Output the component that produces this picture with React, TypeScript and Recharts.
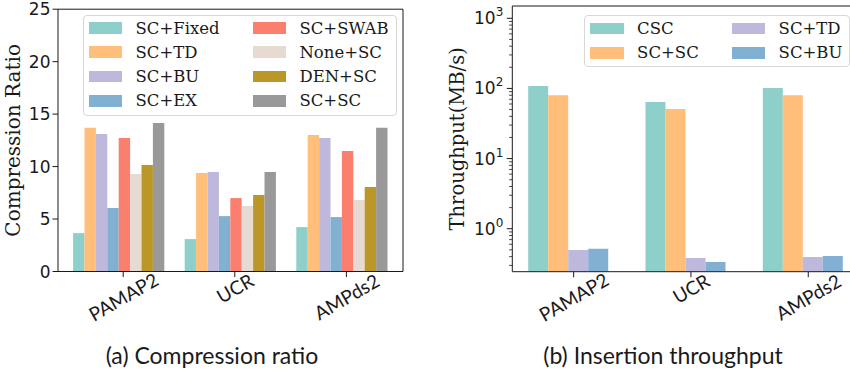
import React from "react";
import { Bar, BarChart, CartesianGrid, Legend, XAxis, YAxis } from "recharts";

// categories shared by both panels
const categories = ["PAMAP2", "UCR", "AMPds2"];

// (a) compression ratio
const ratioFixed = [3.66, 3.09, 4.23];
const ratioTD = [13.69, 9.39, 13.02];
const ratioBU = [13.11, 9.48, 12.73];
const ratioEX = [6.05, 5.28, 5.19];
const ratioSWAB = [12.73, 7.0, 11.49];
const ratioNone = [9.29, 6.24, 6.81];
const ratioDEN = [10.15, 7.29, 8.05];
const ratioSC = [14.16, 9.48, 13.69];
const ratioTicks = [0, 5, 10, 15, 20, 25];

// (b) insertion throughput, MB/s
const tputCSC = [108, 63.8, 101];
const tputSCSC = [80, 50.7, 80];
const tputTD = [0.497, 0.382, 0.395];
const tputBU = [0.519, 0.335, 0.407];
const tputMajorTicks = [1, 10, 100, 1000];
const tputMinorTicks = [
  0.3, 0.4, 0.5, 0.6, 0.7, 0.8, 0.9, 2, 3, 4, 5, 6, 7, 8, 9, 20, 30, 40, 50,
  60, 70, 80, 90, 200, 300, 400, 500, 600, 700, 800, 900,
];

const INK = "#1a1a1a";
const TICK_FONT = "DejaVu Sans";
const SERIF = "DejaVu Serif";
const CAPTION_FONT = "Lato";

const ratioSeries = [
  { key: "fixed", name: "SC+Fixed", color: "#8ECFC9", values: ratioFixed },
  { key: "td", name: "SC+TD", color: "#FFBE7A", values: ratioTD },
  { key: "bu", name: "SC+BU", color: "#BEB8DC", values: ratioBU },
  { key: "ex", name: "SC+EX", color: "#82B0D2", values: ratioEX },
  { key: "swab", name: "SC+SWAB", color: "#FA7F6F", values: ratioSWAB },
  { key: "none", name: "None+SC", color: "#E7DAD2", values: ratioNone },
  { key: "den", name: "DEN+SC", color: "#BB9727", values: ratioDEN },
  { key: "sc", name: "SC+SC", color: "#999999", values: ratioSC },
];

const tputSeries = [
  { key: "csc", name: "CSC", color: "#8ECFC9", values: tputCSC },
  { key: "scsc", name: "SC+SC", color: "#FFBE7A", values: tputSCSC },
  { key: "td", name: "SC+TD", color: "#BEB8DC", values: tputTD },
  { key: "bu", name: "SC+BU", color: "#82B0D2", values: tputBU },
];

const toRows = (series: typeof ratioSeries) =>
  categories.map((name, i) => {
    const row: Record<string, any> = { name };
    series.forEach((s) => (row[s.key] = s.values[i]));
    return row;
  });

const ratioRows = toRows(ratioSeries);
const tputRows = toRows(tputSeries);

// rotated category label, matplotlib-style (rotation=30, centred, top-aligned)
function CategoryTick(props: any) {
  const { x, y, payload, shift } = props;
  const fs = 19;
  const len = String(payload.value).length * fs * 0.6;
  const cx = x + shift;
  const cy = y + 2 + (len * 0.5 + 13.5 * 0.866) / 2;
  return (
    <g>
      <line x1={cx} x2={cx} y1={y} y2={y + 5.5} stroke={INK} />
      <text
        x={cx}
        y={cy}
        textAnchor="middle"
        dominantBaseline="central"
        transform={`rotate(-30 ${cx} ${cy})`}
        fontFamily={CAPTION_FONT}
        fontSize={fs}
        fill={INK}
      >
        {payload.value}
      </text>
    </g>
  );
}

function LinearTick(props: any) {
  const { x, y, payload } = props;
  return (
    <g>
      <line x1={x} x2={x - 5.5} y1={y} y2={y} stroke={INK} />
      <text
        x={x - 7.5}
        y={y}
        textAnchor="end"
        dominantBaseline="central"
        fontFamily={TICK_FONT}
        fontSize={17}
        fill={INK}
      >
        {payload.value}
      </text>
    </g>
  );
}

function LogTick(props: any) {
  const { x, y, payload } = props;
  const exp = Math.log10(payload.value);
  const major = tputMajorTicks.includes(payload.value);
  return (
    <g>
      <line
        x1={x}
        x2={x - (major ? 5.5 : 3.2)}
        y1={y}
        y2={y}
        stroke={INK}
        strokeWidth={major ? 1 : 0.8}
      />
      {major && (
        <text
          x={x - 9}
          y={y + 6}
          textAnchor="end"
          fontFamily={TICK_FONT}
          fontSize={17}
          fill={INK}
        >
          10
          <tspan dy={-8} fontSize={12}>
            {Math.round(exp)}
          </tspan>
        </text>
      )}
    </g>
  );
}

const yTitle = (text: string, dx: number, fs: number) => (props: any) => {
  const vb = props.viewBox;
  const cx = vb.x + dx;
  const cy = vb.y + vb.height / 2;
  return (
    <text
      x={cx}
      y={cy}
      textAnchor="middle"
      dominantBaseline="central"
      transform={`rotate(-90 ${cx} ${cy})`}
      fontFamily={SERIF}
      fontSize={fs}
      fill={INK}
    >
      {text}
    </text>
  );
};

// top and right spines of the matplotlib box
const topLine = ({ offset }: any) => [offset.top];
const rightLine = ({ offset }: any) => [offset.left + offset.width];

function LegendGrid({ payload, names, rows, padTop, padBottom }: any) {
  const items = [...(payload || [])].sort(
    (a: any, b: any) => names.indexOf(a.value) - names.indexOf(b.value)
  );
  return (
    <div
      style={{
        display: "grid",
        gridAutoFlow: "column",
        gridTemplateRows: `repeat(${rows}, 24.2px)`,
        columnGap: 33,
        padding: `${padTop}px 7px ${padBottom}px 5px`,
        border: "1px solid #d8d8d8",
        borderRadius: 4,
        background: "rgba(255,255,255,0.85)",
        fontFamily: SERIF,
        fontSize: 16.5,
        color: INK,
        whiteSpace: "nowrap",
      }}
    >
      {items.map((p: any) => (
        <div key={p.value} style={{ display: "flex", alignItems: "center" }}>
          <span
            style={{
              display: "inline-block",
              width: 33.5,
              height: 11.7,
              background: p.color,
              marginRight: 13.3,
            }}
          />
          <span>{p.value}</span>
        </div>
      ))}
    </div>
  );
}

function RatioChart() {
  return (
    <BarChart
      width={420}
      height={374}
      data={ratioRows}
      margin={{ top: 9.2, right: 17, bottom: 42.5, left: 0 }}
      barSize={11.4}
      barGap={0}
    >
      <CartesianGrid
        stroke={INK}
        strokeDasharray="0"
        horizontalCoordinatesGenerator={topLine}
        verticalCoordinatesGenerator={rightLine}
      />
      <XAxis
        dataKey="name"
        height={60}
        padding={{ left: 5.1, right: 5.1 }}
        axisLine={{ stroke: INK }}
        tickLine={false}
        tickSize={0}
        tickMargin={0}
        interval={0}
        tick={(p: any) => <CategoryTick {...p} shift={4.3} />}
      />
      <YAxis
        width={58}
        domain={[0, 25]}
        ticks={ratioTicks}
        interval={0}
        axisLine={{ stroke: INK }}
        tickLine={false}
        tickSize={0}
        tickMargin={0}
        tick={(p: any) => <LinearTick {...p} />}
        label={yTitle("Compression Ratio", 13.3, 20)}
      />
      <Legend
        layout="horizontal"
        verticalAlign="middle"
        align="center"
        wrapperStyle={{ left: 82.7, top: 15, width: "auto", height: "auto" }}
        content={(p: any) => (
          <LegendGrid
            payload={p.payload}
            names={ratioSeries.map((s) => s.name)}
            rows={4}
            padTop={0}
            padBottom={2}
          />
        )}
      />
      {ratioSeries.map((s) => (
        <Bar key={s.key} dataKey={s.key} name={s.name} fill={s.color} isAnimationActive={false} />
      ))}
    </BarChart>
  );
}

function ThroughputChart() {
  return (
    <BarChart
      width={440}
      height={374}
      data={tputRows}
      margin={{ top: 6, right: 12, bottom: 42.3, left: 0 }}
      barSize={20}
      barGap={0}
    >
      <CartesianGrid
        stroke={INK}
        strokeDasharray="0"
        horizontalCoordinatesGenerator={topLine}
        vertical={false}
      />
      <XAxis
        dataKey="name"
        height={60}
        padding={{ left: -3.1, right: -3.1 }}
        axisLine={{ stroke: INK }}
        tickLine={false}
        tickSize={0}
        tickMargin={0}
        interval={0}
        tick={(p: any) => <CategoryTick {...p} shift={5.8} />}
      />
      <YAxis
        width={82.3}
        type="number"
        scale="log"
        domain={[0.244, 1496]}
        allowDataOverflow
        ticks={[...tputMinorTicks, ...tputMajorTicks].sort((a, b) => a - b)}
        interval={0}
        axisLine={{ stroke: INK }}
        tickLine={false}
        tickSize={0}
        tickMargin={0}
        tick={(p: any) => <LogTick {...p} />}
        label={yTitle("Throughput(MB/s)", 28, 19.5)}
      />
      <Legend
        layout="horizontal"
        verticalAlign="middle"
        align="center"
        wrapperStyle={{ left: 154.3, top: 15, width: "auto", height: "auto" }}
        content={(p: any) => (
          <LegendGrid
            payload={p.payload}
            names={tputSeries.map((s) => s.name)}
            rows={2}
            padTop={0.5}
            padBottom={1.2}
          />
        )}
      />
      {tputSeries.map((s) => (
        <Bar key={s.key} dataKey={s.key} name={s.name} fill={s.color} isAnimationActive={false} />
      ))}
    </BarChart>
  );
}

const captionStyle = (center: number): React.CSSProperties => ({
  position: "absolute",
  left: center - 200,
  width: 400,
  top: 344,
  lineHeight: "23px",
  textAlign: "center",
  fontFamily: CAPTION_FONT,
  fontSize: 23,
  color: INK,
});

export default function App() {
  return (
    <div
      style={{
        position: "absolute",
        left: 0,
        top: 0,
        width: 850,
        height: 374,
        overflow: "hidden",
        background: "#fff",
      }}
    >
      <div style={{ position: "absolute", left: 0, top: 0 }}>
        <RatioChart />
      </div>
      <div style={{ position: "absolute", left: 430, top: 0 }}>
        <ThroughputChart />
      </div>
      <div style={captionStyle(212)}>(a) Compression ratio</div>
      <div style={captionStyle(663)}>(b) Insertion throughput</div>
    </div>
  );
}
